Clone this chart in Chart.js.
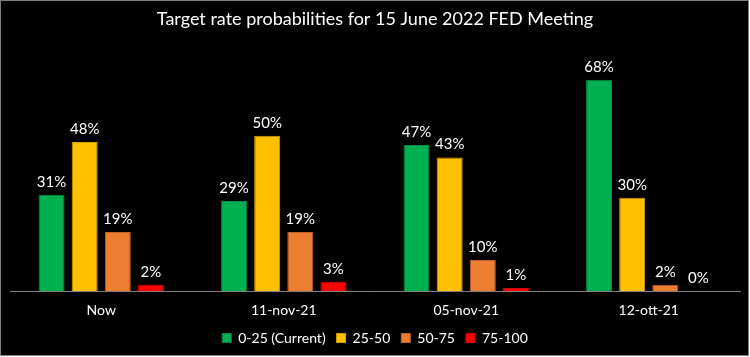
<!DOCTYPE html>
<html>
<head>
<meta charset="utf-8">
<script src="https://cdn.jsdelivr.net/npm/chart.js@4/dist/chart.umd.min.js"></script>
<style>
html,body{margin:0;padding:0;background:#ffffff;}
#wrap{width:750px;height:357px;}
</style>
</head>
<body>
<div id="wrap"><canvas id="c" width="750" height="357"></canvas></div>
<script>
const categories = ["Now", "11-nov-21", "05-nov-21", "12-ott-21"];
const seriesNames = ["0-25 (Current)", "25-50", "50-75", "75-100"];
const s0_25 = [31, 29, 47, 68];
const s25_50 = [48, 50, 43, 30];
const s50_75 = [19, 19, 10, 2];
const s75_100 = [2, 3, 1, 0];
const titleText = "Target rate probabilities for 15 June 2022 FED Meeting";

const FONT = "Lato, 'Open Sans', sans-serif";
const fills = ["#00B050", "#FFC000", "#ED7D31", "#FF0000"];
const edges = ["#008A3E", "#D9A200", "#C0622A", "#E00000"];
const values = [s0_25, s25_50, s50_75, s75_100];

const bgPlugin = {
  id: "bg",
  beforeDraw(chart) {
    const ctx = chart.ctx;
    ctx.save();
    ctx.fillStyle = "#000000";
    ctx.fillRect(0, 0, 749, 356);
    ctx.restore();
  },
  afterDraw(chart) {
    const ctx = chart.ctx;
    ctx.save();
    ctx.strokeStyle = "#7f7f7f";
    ctx.lineWidth = 1;
    ctx.strokeRect(0.5, 0.5, 748, 355);
    ctx.restore();
  }
};

const labelPlugin = {
  id: "barLabels",
  afterDatasetsDraw(chart) {
    const ctx = chart.ctx;
    ctx.save();
    ctx.fillStyle = "#ffffff";
    ctx.font = "15px " + FONT;
    ctx.textAlign = "center";
    ctx.textBaseline = "alphabetic";
    chart.data.datasets.forEach((ds, i) => {
      const meta = chart.getDatasetMeta(i);
      meta.data.forEach((bar, j) => {
        ctx.fillText(ds.data[j] + "%", bar.x, bar.y - 8);
      });
    });
    ctx.restore();
  }
};

new Chart(document.getElementById("c"), {
  type: "bar",
  data: {
    labels: categories,
    datasets: seriesNames.map((n, i) => ({
      label: n,
      data: values[i],
      backgroundColor: fills[i],
      borderColor: edges[i],
      borderWidth: 1,
      categoryPercentage: 0.726,
      barPercentage: 0.785
    }))
  },
  options: {
    responsive: false,
    animation: false,
    devicePixelRatio: 1,
    layout: { padding: { left: 10, right: 10, top: 0, bottom: 2 } },
    plugins: {
      title: {
        display: true,
        text: titleText,
        color: "#ffffff",
        font: { family: FONT, size: 18, weight: "normal" },
        padding: { top: 8, bottom: 13 }
      },
      legend: {
        display: true,
        position: "bottom",
        labels: {
          color: "#ffffff",
          font: { family: FONT, size: 14 },
          boxWidth: 9,
          boxHeight: 9,
          padding: 11
        }
      },
      tooltip: { enabled: false }
    },
    scales: {
      x: {
        grid: { display: false, drawTicks: false },
        border: { display: true, color: "#7f7f7f", width: 1 },
        ticks: { color: "#ffffff", font: { family: FONT, size: 14 }, padding: 11 },
        afterFit(scale) { scale.height = 29; }
      },
      y: {
        display: false,
        min: 0,
        max: 80
      }
    }
  },
  plugins: [bgPlugin, labelPlugin]
});
</script>
</body>
</html>
